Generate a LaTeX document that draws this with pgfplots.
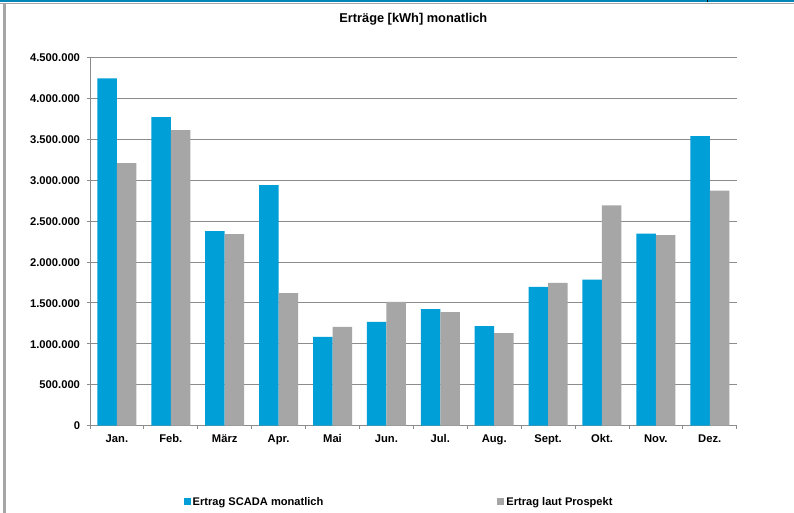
\documentclass[border=0pt]{standalone}
\usepackage{pgfplots}
\pgfplotsset{compat=1.18}
\usepackage{fontspec}
\setmainfont{Liberation Sans}
\definecolor{scada}{HTML}{009FD7}
\definecolor{prosp}{HTML}{A6A6A6}
\definecolor{gridc}{HTML}{8C8C8C}
\begin{document}
\begin{tikzpicture}
% page frame of the report
\useasboundingbox (0,0) rectangle (794bp,513bp);
\fill[white] (0,0) rectangle (794bp,513bp);
\fill[scada!85!black] (0,511.3bp) rectangle (794bp,513bp);
\fill[black] (706.5bp,511.3bp) rectangle (707.5bp,513bp);
\fill[gray!70] (0,508.5bp) rectangle (794bp,509.6bp);
\fill[gray!70] (3bp,0) rectangle (5.5bp,508.5bp);
\begin{axis}[
    at={(90bp,87.3bp)}, anchor=south west,
    scale only axis,
    width=646.7bp, height=368.4bp,
    ybar=0pt, bar width=0.362,
    xmin=0.5, xmax=12.5,
    ymin=0, ymax=4500000,
    axis x line=bottom, axis y line=left,
    axis line style={gridc, line width=0.9bp, -},
    xtick={1,...,12},
    xticklabels={Jan.,Feb.,März,Apr.,Mai,Jun.,Jul.,Aug.,Sept.,Okt.,Nov.,Dez.},
    major x tick style={draw=none},
    minor xtick={0.5,1.5,...,12.5},
    minor x tick style={gridc, line width=0.8bp},
    ytick={0,500000,...,4500000},
    yticklabels={0,500.000,1.000.000,1.500.000,2.000.000,2.500.000,3.000.000,3.500.000,4.000.000,4.500.000},
    scaled y ticks=false,
    y tick style={gridc, line width=0.8bp},
    tick align=outside,
    major tick length=3bp, minor tick length=3bp,
    ymajorgrids, major grid style={gridc, line width=0.9bp},
    typeset ticklabels with strut,
    tick label style={font=\fontsize{11.2bp}{13bp}\selectfont\bfseries},
    xticklabel style={yshift=-1.5bp},
    yticklabel style={xshift=-3.5bp, yshift=-1.6bp},
    title={Erträge [kWh] monatlich},
    title style={font=\fontsize{12.8bp}{15bp}\selectfont\bfseries, anchor=center, at={(0.5,1)}, yshift=32bp},
    legend style={at={(0.478,-0.207)}, anchor=center, draw=none, legend columns=2,
        font=\fontsize{11.1bp}{13bp}\selectfont\bfseries,
        /tikz/every even column/.append style={column sep=172bp},
        inner sep=0pt},
    legend image code/.code={\fill[#1,draw=none] (0bp,-3.5bp) rectangle (7bp,3.5bp);},
]
\addplot[fill=scada, draw=none] coordinates {
 (1,4244000) (2,3768000) (3,2378000) (4,2939000) (5,1085000) (6,1268000)
 (7,1423000) (8,1216000) (9,1695000) (10,1784000) (11,2345000) (12,3537000)};
\addplot[fill=prosp, draw=none] coordinates {
 (1,3207000) (2,3610000) (3,2340000) (4,1620000) (5,1207000) (6,1512000)
 (7,1387000) (8,1130000) (9,1744000) (10,2690000) (11,2329000) (12,2870000)};
\legend{Ertrag SCADA monatlich, Ertrag laut Prospekt}
\end{axis}
\end{tikzpicture}
\end{document}
